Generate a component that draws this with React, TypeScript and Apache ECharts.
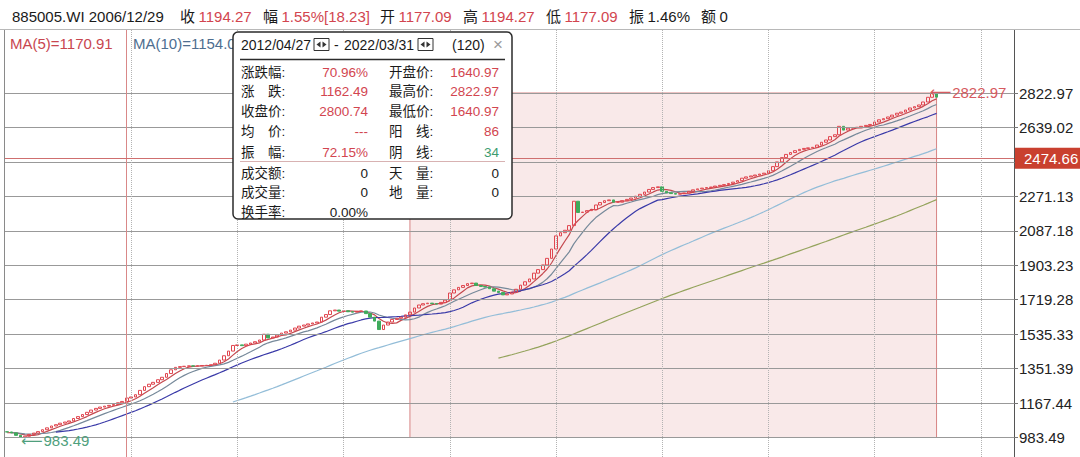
import React, { useEffect, useRef } from 'react';
import * as echarts from 'echarts';

// ---------------- data ----------------
// monthly closes, index 0 = 2004/01 ... index 218 = 2022/03
const startYear = 2004;
const firstVisible = 8; // 2004/09 is the first bar on screen
const totalSlots = 228; // visible category slots (incl. empty room on the right)

const closes: number[] = [
  1002, 1008, 1015, 1010, 1003, 1005, 1010, 1014, 1013, 1008,
  995, 983.49, 990, 1000, 1007, 1015, 1025, 1035, 1045, 1052,
  1060, 1066, 1072, 1085, 1095, 1106, 1118, 1130, 1139, 1146,
  1151, 1155, 1160, 1169, 1176.04, 1194.27, 1200, 1212, 1235, 1255,
  1268, 1278, 1292, 1305, 1325, 1345, 1358, 1362, 1364, 1366,
  1365, 1366, 1368, 1369, 1372, 1380, 1397, 1420, 1445, 1475,
  1478, 1474, 1482, 1488, 1495, 1504, 1535, 1515, 1520, 1530,
  1541, 1548, 1557, 1568, 1578, 1584, 1590, 1595, 1600, 1626,
  1640, 1660, 1664, 1658, 1660, 1655, 1653, 1657, 1659, 1645,
  1626, 1605, 1560, 1584, 1600, 1614, 1620, 1626, 1638.25, 1653,
  1675, 1691, 1698, 1701, 1698, 1696, 1705, 1717, 1755, 1772,
  1785, 1795, 1805, 1808, 1795, 1790, 1787, 1778, 1765, 1758,
  1745, 1750, 1760, 1775, 1797, 1815, 1830, 1861, 1880, 1905,
  1940, 1990, 2060, 2077, 2090, 2115, 2245, 2185, 2187, 2195,
  2200, 2225, 2238, 2248, 2252, 2240, 2240, 2248, 2255, 2262,
  2272, 2282, 2294, 2308, 2318, 2322, 2298, 2290, 2286, 2283,
  2285, 2289, 2298, 2306, 2311, 2315, 2318, 2321, 2326, 2330,
  2334, 2340, 2347, 2355, 2368, 2375, 2380, 2385, 2390, 2395,
  2408, 2430, 2455, 2478, 2495, 2505, 2515, 2522, 2527, 2530,
  2533, 2545, 2560, 2572, 2590, 2600, 2645, 2625, 2635, 2638,
  2640, 2645, 2650, 2655, 2668, 2680, 2686, 2695, 2705, 2715,
  2721, 2732, 2743, 2750, 2759, 2775, 2800, 2822.97, 2800.74,
];

const maPeriods = [5, 10, 20, 60, 120];

const yGridValues = [983.49, 1167.44, 1351.39, 1535.33, 1719.28, 1903.23, 2087.18, 2271.13, 2455.07, 2639.02, 2822.97];
const yLabelValues = [983.49, 1167.44, 1351.39, 1535.33, 1719.28, 1903.23, 2087.18, 2271.13, 2639.02, 2822.97];
const xGridMonths = ['2007/01', '2009/01', '2011/01', '2013/01', '2015/01', '2017/01', '2019/01', '2021/01', '2023/01'];

const crossMonth = '2006/12';
const crossValue = 2474.66;

const rangeStart = '2012/04';
const rangeEnd = '2022/03';
const rangeTop = 2822.97;
const rangeBottom = 983.49;

const highMonth = '2022/02';
const highValue = 2822.97;
const lowMonth = '2004/12';
const lowValue = 983.49;

const infoName = '885005.WI 2006/12/29';
const infoLabels = ['收', '幅', '开', '高', '低', '振', '额'];
const infoValues = ['1194.27', '1.55%[18.23]', '1177.09', '1194.27', '1177.09', '1.46%', '0'];
const infoRed = [true, true, true, true, true, false, false];

const maLegend = ['MA(5)=1170.91', 'MA(10)=1154.04'];

const boxFrom = '2012/04/27';
const boxTo = '2022/03/31';
const boxCount = '(120)';
const statLabels1 = ['涨跌幅:', '涨　跌:', '收盘价:', '均　价:', '振　幅:', '成交额:', '成交量:', '换手率:'];
const statValues1 = ['70.96%', '1162.49', '2800.74', '---', '72.15%', '0', '0', '0.00%'];
const statLabels2 = ['开盘价:', '最高价:', '最低价:', '阳　线:', '阴　线:', '天　量:', '地　量:', ''];
const statValues2 = ['1640.97', '2822.97', '1640.97', '86', '34', '0', '0', ''];
const statTone1 = ['r', 'r', 'r', 'r', 'r', 'k', 'k', 'k'];
const statTone2 = ['r', 'r', 'r', 'r', 'g', 'k', 'k', 'k'];

// ---------------- styles ----------------
const FONT = '"Liberation Sans", "Noto Sans CJK SC", "DejaVu Sans", sans-serif';
const RED = '#d2454f';
const GREEN = '#3e9c70';
const DARK = '#1a1a1a';
const maColors = ['#c4494f', '#76899a', '#3a3aa8', '#93bdd8', '#94a35c'];
const toneColor: Record<string, string> = { r: RED, g: GREEN, k: DARK };

function monthLabel(i: number) {
  const y = startYear + Math.floor(i / 12);
  const m = (i % 12) + 1;
  return `${y}/${m < 10 ? '0' + m : m}`;
}

function buildOption() {
  const categories: string[] = [];
  for (let k = 0; k < totalSlots; k++) categories.push(monthLabel(firstVisible + k));

  const candleData: number[][] = [];
  for (let i = firstVisible; i < closes.length; i++) {
    const o = closes[i - 1];
    const c = closes[i];
    candleData.push([o, c, Math.min(o, c), Math.max(o, c)]);
  }

  const maSeries = maPeriods.map((p, idx) => {
    const out: (number | null)[] = [];
    for (let i = firstVisible; i < closes.length; i++) {
      if (i < p - 1) { out.push(null); continue; }
      let s = 0;
      for (let j = i - p + 1; j <= i; j++) s += closes[j];
      out.push(+(s / p).toFixed(2));
    }
    return {
      type: 'line', name: 'MA' + p, data: out, showSymbol: false, symbol: 'none',
      smooth: false, z: 2, silent: true,
      lineStyle: { color: maColors[idx], width: 1.2 }, itemStyle: { color: maColors[idx] },
    };
  });

  const nulls = categories.map(() => null);

  const T = (text: string, x: number, y: number, o: any = {}) => ({
    type: 'text', z: o.z ?? 60, silent: true,
    style: {
      text, x, y, fill: o.fill || DARK, fontSize: o.size || 15,
      fontFamily: o.family || FONT, align: o.align || 'left', verticalAlign: 'middle',
    },
  });
  const L = (x1: number, y1: number, x2: number, y2: number, stroke: string, w = 1, z = 60) => ({
    type: 'line', z, silent: true, shape: { x1, y1, x2, y2 }, style: { stroke, lineWidth: w },
  });

  const graphic: any[] = [];
  // top info bar
  graphic.push({ type: 'rect', z: 40, silent: true, shape: { x: 0, y: 0, width: 1080, height: 29.5 }, style: { fill: '#fff' } });
  graphic.push(L(0, 29.5, 1080, 29.5, '#b8b8b8', 1, 41));
  graphic.push(L(4.5, 30, 4.5, 457, '#8a8a8a', 1, 41));
  graphic.push(T(infoName, 12, 16));
  const infoLabelX = [180, 263, 380, 463, 546, 629, 701];
  infoLabels.forEach((lab, k) => {
    graphic.push(T(lab, infoLabelX[k], 16));
    graphic.push(T(infoValues[k], infoLabelX[k] + 18.5, 16, { fill: infoRed[k] ? RED : DARK }));
  });
  // MA legend
  graphic.push(T(maLegend[0], 10, 43, { fill: '#c8464f', z: 10 }));
  graphic.push(T(maLegend[1], 133, 43, { fill: '#4e6e90', z: 10 }));

  // popup box
  graphic.push({ type: 'rect', z: 50, silent: true, shape: { x: 233, y: 32, width: 279, height: 187, r: 5 }, style: { fill: '#fff', stroke: '#2b2b2b', lineWidth: 1.5 } });
  graphic.push(T(boxFrom, 241, 45, { size: 14 }));
  const icon = (x: number) => {
    graphic.push({ type: 'rect', z: 61, silent: true, shape: { x, y: 38.5, width: 15, height: 12 }, style: { fill: '#fff', stroke: '#333', lineWidth: 1 } });
    graphic.push({ type: 'polygon', z: 62, silent: true, shape: { points: [[x + 2.5, 44.5], [x + 6.5, 41.5], [x + 6.5, 47.5]] }, style: { fill: '#333' } });
    graphic.push({ type: 'polygon', z: 62, silent: true, shape: { points: [[x + 12.5, 44.5], [x + 8.5, 41.5], [x + 8.5, 47.5]] }, style: { fill: '#333' } });
  };
  icon(314);
  graphic.push(T('-', 334, 45, { size: 14 }));
  graphic.push(T(boxTo, 344, 45, { size: 14 }));
  icon(418);
  graphic.push(T(boxCount, 452, 45, { size: 14 }));
  graphic.push(T('×', 498, 44, { size: 17, fill: '#9a9a9a', align: 'center' }));
  graphic.push(L(240, 59.5, 505, 59.5, '#2b2b2b', 1.5));
  const rowY = [72, 91.5, 111, 131, 152, 173, 192.5, 212];
  statLabels1.forEach((lab, k) => {
    graphic.push(T(lab, 241, rowY[k], { size: 13.5 }));
    graphic.push(T(statValues1[k], 368, rowY[k], { size: 13.5, align: 'right', fill: toneColor[statTone1[k]] }));
    if (statLabels2[k]) graphic.push(T(statLabels2[k], 389, rowY[k], { size: 13.5 }));
    if (statValues2[k]) graphic.push(T(statValues2[k], 499, rowY[k], { size: 13.5, align: 'right', fill: toneColor[statTone2[k]] }));
  });
  graphic.push(L(240, 161.5, 505, 161.5, '#d8b2b2', 1));

  const option: any = {
    animation: false,
    backgroundColor: '#ffffff',
    textStyle: { fontFamily: FONT },
    grid: { left: 5, right: 66, top: 30, bottom: 0, outerBoundsMode: 'none' },
    xAxis: { type: 'category', data: categories, show: false, boundaryGap: true },
    yAxis: {
      type: 'value', position: 'right', min: 879.4, max: 3159.4,
      axisLine: { show: true, lineStyle: { color: '#555', width: 1 } },
      axisTick: { show: true, customValues: yGridValues, length: 4, lineStyle: { color: '#777' } },
      axisLabel: {
        show: true, customValues: yLabelValues, color: '#222', fontSize: 15, fontFamily: FONT, margin: 5,
        formatter: (v: number) => v.toFixed(2),
      },
      splitLine: { show: false },
    },
    series: [
      {
        type: 'line', name: 'grid', data: nulls, z: 1, silent: true, showSymbol: false,
        markLine: {
          silent: true, symbol: ['none', 'none'], animation: false,
          label: { show: false },
          lineStyle: { color: '#999999', width: 1, type: 'solid' },
          data: [
            ...yGridValues.map((v) => ({ yAxis: v })),
            ...xGridMonths.map((m) => ({ xAxis: m, lineStyle: { color: '#b3b3b3', width: 1, type: 'dotted' } })),
          ],
        },
      },
      ...maSeries,
      {
        type: 'candlestick', name: 'K', data: candleData, z: 3, barWidth: 3.2, silent: true,
        itemStyle: { color: 'rgba(255,255,255,0)', color0: '#3fab5c', borderColor: '#e0464f', borderColor0: '#3fab5c', borderWidth: 1 },
        markArea: {
          silent: true,
          itemStyle: { color: 'rgba(212,110,110,0.15)', borderColor: '#d88484', borderWidth: 1 },
          label: { show: false },
          data: [[{ xAxis: rangeStart, yAxis: rangeBottom }, { xAxis: rangeEnd, yAxis: rangeTop }]],
        },
        markPoint: {
          silent: true, symbol: 'circle', symbolSize: 1, itemStyle: { color: 'rgba(0,0,0,0)' },
          data: [
            {
              coord: [highMonth, highValue],
              label: {
                show: true, position: 'right', distance: 0, offset: [-3, -1],
                formatter: '{a|⟵}{b|' + highValue.toFixed(2) + '}',
                rich: {
                  a: { fontFamily: 'DejaVu Sans', fontSize: 15, color: '#d65a60' },
                  b: { fontFamily: FONT, fontSize: 15, color: '#d65a60', padding: [0, 0, 0, 1] },
                },
              },
            },
            {
              coord: [lowMonth, lowValue],
              label: {
                show: true, position: 'right', distance: 0, offset: [0, 3],
                formatter: '{a|⟵}{b|' + lowValue.toFixed(2) + '}',
                rich: {
                  a: { fontFamily: 'DejaVu Sans', fontSize: 15, color: '#4f9f7d' },
                  b: { fontFamily: FONT, fontSize: 15, color: '#4f9f7d', padding: [0, 0, 0, 1] },
                },
              },
            },
          ],
        },
      },
      {
        type: 'line', name: 'cross', data: nulls, z: 4, silent: true, showSymbol: false,
        markLine: {
          silent: true, symbol: ['none', 'none'], animation: false,
          label: { show: false },
          data: [
            { xAxis: crossMonth, lineStyle: { color: '#d98888', width: 1, type: 'solid' } },
            {
              yAxis: crossValue,
              lineStyle: { color: '#cf6f6f', width: 1, type: 'solid' },
              label: {
                show: true, position: 'end', distance: 1, formatter: crossValue.toFixed(2),
                backgroundColor: '#c9402f', color: '#fff', fontSize: 15, fontFamily: FONT,
                padding: [3, 9, 3, 9],
              },
            },
          ],
        },
      },
    ],
    graphic,
  };
  return option;
}

export default function App() {
  const ref = useRef<HTMLDivElement>(null);
  useEffect(() => {
    if (!ref.current) return;
    const chart = echarts.init(ref.current, null, { renderer: 'svg' });
    chart.setOption(buildOption());
    return () => chart.dispose();
  }, []);
  return (
    <div
      ref={ref}
      style={{ position: 'fixed', left: 0, top: 0, width: 1080, height: 457, background: '#fff' }}
    />
  );
}
